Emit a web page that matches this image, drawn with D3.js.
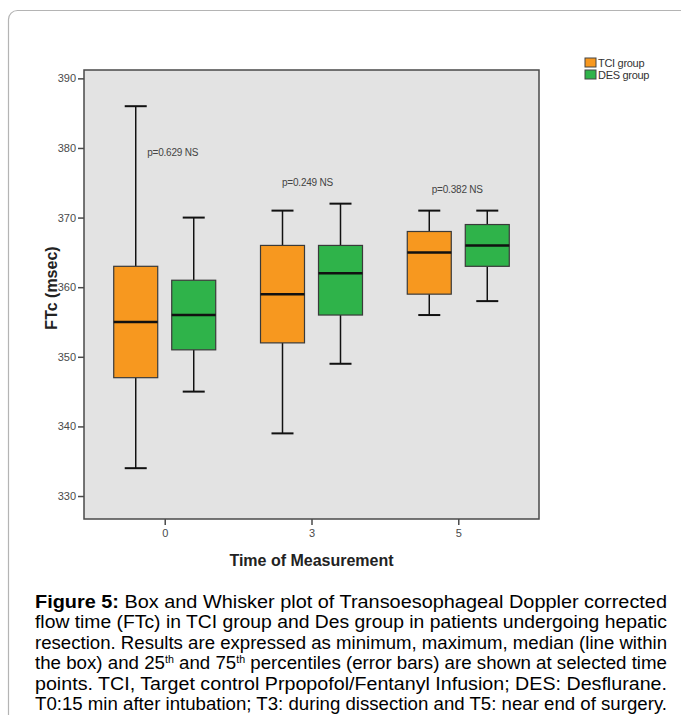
<!DOCTYPE html>
<html>
<head>
<meta charset="utf-8">
<script src="https://cdn.jsdelivr.net/npm/d3@7"></script>
<style>
  body { margin: 0; background: #fff; }
  svg { display: block; }
</style>
</head>
<body>
<div id="chart"></div>
<script>
// data
const times = ["0", "3", "5"]
const groups = ["TCI group", "DES group"]
const tciStats = [
  {min: 334, q1: 347, median: 355, q3: 363, max: 386},
  {min: 339, q1: 352, median: 359, q3: 366, max: 371},
  {min: 356, q1: 359, median: 365, q3: 368, max: 371}]
const desStats = [
  {min: 345, q1: 351, median: 356, q3: 361, max: 370},
  {min: 349, q1: 356, median: 362, q3: 366, max: 372},
  {min: 358, q1: 363, median: 366, q3: 369, max: 371}]
const pLabels = ["p=0.629 NS", "p=0.249 NS", "p=0.382 NS"]
const pLabelY = [378.8, 374.6, 373.6]
const yTicks = [330, 340, 350, 360, 370, 380, 390]

const captionLines = [
  [{t: "Figure 5:", b: true}, {t: " Box and Whisker plot of Transoesophageal Doppler corrected"}],
  [{t: "flow time (FTc) in TCI group and Des group in patients undergoing hepatic"}],
  [{t: "resection. Results are expressed as minimum, maximum, median (line within"}],
  [{t: "the box) and 25"}, {t: "th", sup: true}, {t: " and 75", down: true}, {t: "th", sup: true},
   {t: " percentiles (error bars) are shown at selected time", down: true}],
  [{t: "points. TCI, Target control Prpopofol/Fentanyl Infusion; DES: Desflurane."}],
  [{t: "T0:15 min after intubation; T3: during dissection and T5: near end of surgery."}]]

const orange = "#f7981f", green = "#2fb34a"

const W = 681, H = 715
const plot = {left: 84, right: 539, top: 70, bottom: 519}

const svg = d3.select("#chart").append("svg")
  .attr("width", W).attr("height", H)
  .style("font-family", "Arial, 'Liberation Sans', sans-serif")

// outer frame
svg.append("rect")
  .attr("x", 8.5).attr("y", 10.5)
  .attr("width", 720).attr("height", 740)
  .attr("rx", 9)
  .attr("fill", "none").attr("stroke", "#b4b4b4").attr("stroke-width", 1.2)

const x = d3.scalePoint().domain(times).range([plot.left, plot.right]).padding(0.55)
const y = d3.scaleLinear().domain([326.7, 391.2]).range([plot.bottom, plot.top])

svg.append("rect")
  .attr("x", plot.left).attr("y", plot.top)
  .attr("width", plot.right - plot.left).attr("height", plot.bottom - plot.top)
  .attr("fill", "#e3e3e3").attr("stroke", "#4a4a4a").attr("stroke-width", 1.5)

// y axis
const yAxis = svg.append("g")
  .attr("transform", `translate(${plot.left},0)`)
  .call(d3.axisLeft(y).tickValues(yTicks).tickSize(6).tickPadding(2))
yAxis.select(".domain").remove()
yAxis.selectAll("line").attr("stroke", "#4a4a4a").attr("stroke-width", 1.5)
yAxis.selectAll("text").attr("fill", "#4a4a4a")
  .style("font-size", "11px").style("font-family", "Arial, 'Liberation Sans', sans-serif")

// x axis
const xAxis = svg.append("g")
  .attr("transform", `translate(0,${plot.bottom})`)
  .call(d3.axisBottom(x).tickSize(6).tickPadding(4))
xAxis.select(".domain").remove()
xAxis.selectAll("line").attr("stroke", "#4a4a4a").attr("stroke-width", 1.5)
xAxis.selectAll("text").attr("fill", "#4a4a4a")
  .style("font-size", "11px").style("font-family", "Arial, 'Liberation Sans', sans-serif")

// boxes
const boxW = 44, offset = 29, capW = 22
const series = [
  {name: groups[0], color: orange, stats: tciStats, dx: -offset},
  {name: groups[1], color: green, stats: desStats, dx: offset}]

series.forEach(s => {
  const g = svg.append("g")
  const items = s.stats.map((d, i) => ({...d, cx: x(times[i]) + s.dx}))
  const it = g.selectAll("g").data(items).enter().append("g")

  it.append("line")
    .attr("x1", d => d.cx).attr("x2", d => d.cx)
    .attr("y1", d => y(d.max)).attr("y2", d => y(d.q3))
    .attr("stroke", "#111").attr("stroke-width", 1.5)
  it.append("line")
    .attr("x1", d => d.cx).attr("x2", d => d.cx)
    .attr("y1", d => y(d.q1)).attr("y2", d => y(d.min))
    .attr("stroke", "#111").attr("stroke-width", 1.5)
  it.selectAll(".cap").data(d => [{cx: d.cx, v: d.max}, {cx: d.cx, v: d.min}])
    .enter().append("line").attr("class", "cap")
    .attr("x1", d => d.cx - capW / 2).attr("x2", d => d.cx + capW / 2)
    .attr("y1", d => y(d.v)).attr("y2", d => y(d.v))
    .attr("stroke", "#111").attr("stroke-width", 2)
  it.append("rect")
    .attr("x", d => d.cx - boxW / 2).attr("width", boxW)
    .attr("y", d => y(d.q3)).attr("height", d => y(d.q1) - y(d.q3))
    .attr("fill", s.color).attr("stroke", "#3a3a3a").attr("stroke-width", 1.2)
  it.append("line")
    .attr("x1", d => d.cx - boxW / 2).attr("x2", d => d.cx + boxW / 2)
    .attr("y1", d => y(d.median)).attr("y2", d => y(d.median))
    .attr("stroke", "#111").attr("stroke-width", 2.5)
})

// p-value notes (small nudges to sit where the original puts them)
const pNudge = [8, -4, -1]
svg.selectAll(".pval").data(pLabels).enter().append("text")
  .attr("class", "pval")
  .attr("x", (d, i) => x(times[i]) + pNudge[i])
  .attr("y", (d, i) => y(pLabelY[i]))
  .attr("text-anchor", "middle")
  .attr("fill", "#444")
  .style("font-size", "10px")
  .style("letter-spacing", "-0.2px")
  .text(d => d)

// axis titles
svg.append("text")
  .attr("x", (plot.left + plot.right) / 2).attr("y", 566)
  .attr("text-anchor", "middle")
  .style("font-size", "16px").style("font-weight", "bold").attr("fill", "#222")
  .text("Time of Measurement")

svg.append("text")
  .attr("transform", `translate(57,288) rotate(-90)`)
  .attr("text-anchor", "middle")
  .style("font-size", "16px").style("font-weight", "bold").attr("fill", "#222")
  .text("FTc (msec)")

// legend
const legend = svg.append("g").attr("transform", "translate(585,58)")
const li = legend.selectAll("g").data(series).enter().append("g")
  .attr("transform", (d, i) => `translate(0,${i * 12})`)
li.append("rect")
  .attr("width", 11).attr("height", 9)
  .attr("fill", d => d.color).attr("stroke", "#444").attr("stroke-width", 1)
li.append("text")
  .attr("x", 13).attr("y", 8.5)
  .attr("fill", "#333")
  .style("font-size", "11px").style("letter-spacing", "-0.3px")
  .text(d => d.name)

// caption, each line stretched to the column width like the journal's justified text
const capX = 35, capW2 = 632
const cap = svg.append("g").style("font-size", "17.5px").attr("fill", "#000")
captionLines.forEach((parts, i) => {
  const t = cap.append("text")
    .attr("x", capX).attr("y", 608 + i * 20.4)
    .attr("textLength", capW2).attr("lengthAdjust", "spacingAndGlyphs")
  parts.forEach(p => {
    const ts = t.append("tspan").text(p.t)
    if (p.b) ts.style("font-weight", "bold")
    if (p.sup) ts.style("font-size", "10px").attr("dy", -6)
    else if (p.down) ts.attr("dy", 6)
  })
})
</script>
</body>
</html>
